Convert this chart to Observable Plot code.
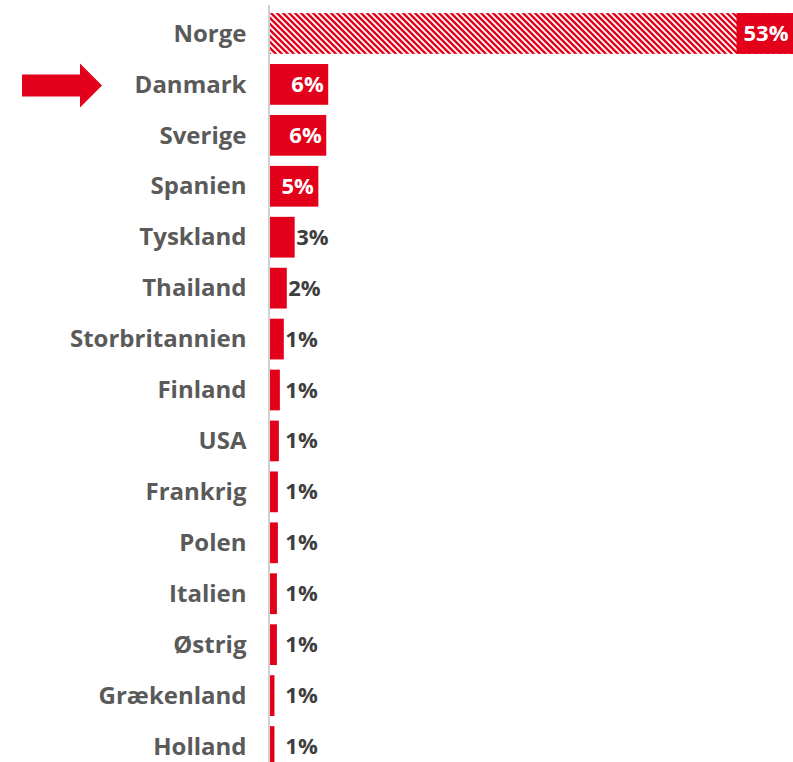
<!DOCTYPE html>
<html>
<head>
<meta charset="utf-8">
<script src="https://cdn.jsdelivr.net/npm/d3@7"></script>
<script src="https://cdn.jsdelivr.net/npm/@observablehq/plot@0.6"></script>
<style>
  html, body { margin: 0; padding: 0; background: #fff; }
  #chart svg { display: block; }
</style>
</head>
<body>
<div id="chart"></div>
<script>
const countries = ["Norge","Danmark","Sverige","Spanien","Tyskland","Thailand","Storbritannien","Finland","USA","Frankrig","Polen","Italien","Østrig","Grækenland","Holland"];
const values = [53, 5.9, 5.7, 4.9, 2.5, 1.7, 1.4, 1.0, 0.9, 0.8, 0.8, 0.7, 0.7, 0.45, 0.45];
const valueLabels = ["53%","6%","6%","5%","3%","2%","1%","1%","1%","1%","1%","1%","1%","1%","1%"];
const hatched = ["Norge"];
const highlighted = "Danmark";

const RED = "#e2001a";
const FONT = "'Open Sans', 'DejaVu Sans', sans-serif";

const data = countries.map((c, i) => ({country: c, value: values[i], label: valueLabels[i]}));
const inside = data.filter(d => d.value >= 4);
const outside = data.filter(d => d.value < 4);

// custom mark: filled arrow in the left margin pointing to highlighted row
function arrowMark(index, scales, channels, dimensions) {
  const y = scales.y(highlighted) + scales.y.bandwidth() / 2 + 1;
  const x0 = 22, xb = 80, xt = 102, sh = 11, hh = 22;
  const path = document.createElementNS("http://www.w3.org/2000/svg", "path");
  path.setAttribute("d", `M${x0},${y - sh}L${xb},${y - sh}L${xb},${y - hh}L${xt},${y}L${xb},${y + hh}L${xb},${y + sh}L${x0},${y + sh}Z`);
  path.setAttribute("fill", RED);
  return path;
}

const plot = Plot.plot({
  width: 793,
  height: 762,
  marginLeft: 270,
  marginRight: 0,
  marginTop: 5,
  marginBottom: 0,
  style: {fontFamily: FONT, background: "#fff"},
  x: {domain: [0, 53], axis: null},
  y: {domain: countries, range: [8, 772], paddingInner: 0.2, paddingOuter: 0.1, round: false, label: null},
  axis: null,
  marks: [
    Plot.axisY({tickSize: 0, tickPadding: 24, fontSize: 24, fontWeight: "bold", fill: "#5a5a5a", label: null}),
    Plot.barX(data.filter(d => hatched.includes(d.country)), {x: "value", y: "country", fill: "url(#hatch)"}),
    Plot.barX(data.filter(d => !hatched.includes(d.country)), {x: "value", y: "country", fill: RED}),
    Plot.ruleX([0], {stroke: "#d0d0d0", strokeWidth: 2, dx: -1.5}),
    Plot.text(inside, {x: "value", y: "country", text: "label", textAnchor: "end", dx: -5, fill: "#fff", fontSize: 22, fontWeight: "bold", className: "inlabel"}),
    Plot.text(outside, {x: d => Math.max(d.value, 1.4), y: "country", text: "label", textAnchor: "start", dx: 1, fill: "#3e3e3e", fontSize: 22, fontWeight: "bold"}),
    arrowMark
  ]
});

// hatch pattern definition
const ns = "http://www.w3.org/2000/svg";
const defs = document.createElementNS(ns, "defs");
defs.innerHTML = `<pattern id="hatch" x="270" y="0" width="6" height="6" patternUnits="userSpaceOnUse"><rect width="6" height="6" fill="#fff"/><path d="M-1,-1L7,7M-1,5L1,7M5,-1L7,1" stroke="${RED}" stroke-width="2.4"/></pattern>`;
plot.insertBefore(defs, plot.firstChild);

document.getElementById("chart").appendChild(plot);

// solid background box behind the label of the hatched bar
const inTexts = Array.from(plot.querySelectorAll(".inlabel text"));
inTexts.forEach((t, idx) => {
  const d = inside[idx];
  if (!d || !hatched.includes(d.country)) return;
  const bb = t.getBBox();
  const ctm = t.getCTM();
  const ys = plot.scale("y");
  const xs = plot.scale("x");
  const pad = 7;
  const left = bb.x + (ctm ? ctm.e : 0) - pad;
  const r = document.createElementNS(ns, "rect");
  r.setAttribute("x", left);
  r.setAttribute("y", ys.apply(d.country));
  r.setAttribute("width", xs.apply(d.value) - left);
  r.setAttribute("height", ys.bandwidth);
  r.setAttribute("fill", RED);
  const g = t.closest("g");
  g.parentNode.insertBefore(r, g);
});
</script>
</body>
</html>
